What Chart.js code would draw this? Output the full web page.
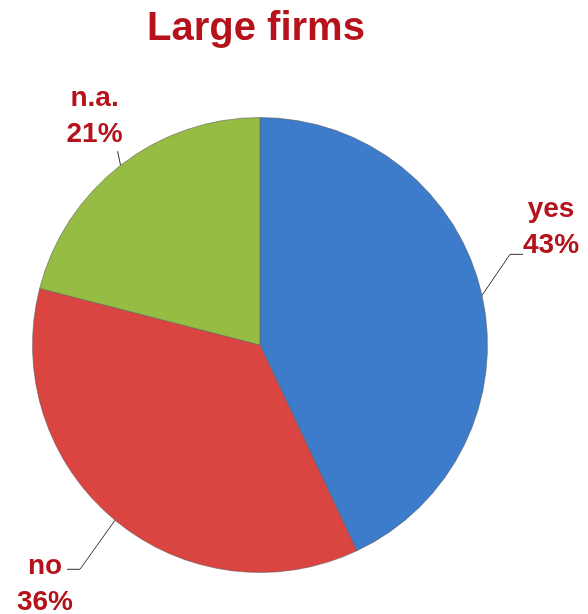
<!DOCTYPE html>
<html>
<head>
<meta charset="utf-8">
<script src="https://cdn.jsdelivr.net/npm/chart.js@4"></script>
<style>
  html, body { margin: 0; padding: 0; background: #fff; }
  #wrap { width: 588px; height: 614px; }
</style>
</head>
<body>
<div id="wrap"><canvas id="myChart" width="588" height="614"></canvas></div>
<script>
const chartTitle = "Large firms";
const categories = ["yes", "no", "n.a."];
const shares = [43, 36, 21];
const sliceColors = ["#3d7ccb", "#db4541", "#96bc43"];
const rimColors = ["#2f64a8", "#b8302d", "#78a030"];

const labelRed = "#b5121b";
const fontFamily = "'Liberation Sans', Arial, sans-serif";

// fake the office-style shading: flat in the middle, darker toward the rim
function sliceFill(ctx) {
  const chart = ctx.chart;
  const i = ctx.dataIndex;
  const meta = chart.getDatasetMeta(0);
  const arc = meta.data[i];
  if (!arc || !arc.outerRadius) return sliceColors[i];
  const g = chart.ctx.createRadialGradient(arc.x, arc.y, 0, arc.x, arc.y, arc.outerRadius);
  g.addColorStop(0, sliceColors[i]);
  g.addColorStop(0.9, sliceColors[i]);
  g.addColorStop(1, rimColors[i]);
  return g;
}

// where each label sits relative to its slice's edge point
const labelLayout = [
  { elbow: [28, -41], end: [41, -41], text: [69, -86] },
  { elbow: [-35, 49], end: [-48, 49], text: [-70, 46] },
  { elbow: [-3, -14], end: [-3, -14], text: [-26, -67] },
];

const titlePlugin = {
  id: "bigTitle",
  afterDraw(chart) {
    const c = chart.ctx;
    c.save();
    c.fillStyle = labelRed;
    c.font = "bold 40px " + fontFamily;
    c.textAlign = "center";
    c.textBaseline = "middle";
    c.fillText(chartTitle, 256, 29);
    c.restore();
  },
};

const leaderLabels = {
  id: "leaderLabels",
  afterDatasetsDraw(chart) {
    const c = chart.ctx;
    const meta = chart.getDatasetMeta(0);
    meta.data.forEach((arc, i) => {
      const mid = (arc.startAngle + arc.endAngle) / 2;
      const sx = arc.x + Math.cos(mid) * arc.outerRadius;
      const sy = arc.y + Math.sin(mid) * arc.outerRadius;
      const L = labelLayout[i];
      c.save();
      c.strokeStyle = "#333";
      c.lineWidth = 1;
      c.beginPath();
      c.moveTo(sx, sy);
      c.lineTo(sx + L.elbow[0], sy + L.elbow[1]);
      c.lineTo(sx + L.end[0], sy + L.end[1]);
      c.stroke();

      c.fillStyle = labelRed;
      c.font = "bold 28px " + fontFamily;
      c.textAlign = "center";
      c.textBaseline = "middle";
      const tx = sx + L.text[0];
      const ty = sy + L.text[1];
      c.fillText(categories[i], tx, ty);
      c.fillText(shares[i] + "%", tx, ty + 36);
      c.restore();
    });
  },
};

new Chart(document.getElementById("myChart"), {
  type: "pie",
  data: {
    labels: categories,
    datasets: [{
      data: shares,
      backgroundColor: sliceFill,
      borderColor: "rgba(90,90,90,0.55)",
      borderWidth: 1,
    }],
  },
  options: {
    responsive: false,
    animation: false,
    layout: {
      padding: { left: 32, right: 100, top: 117, bottom: 41 },
    },
    plugins: {
      legend: { display: false },
      tooltip: { enabled: false },
      title: { display: false },
    },
  },
  plugins: [titlePlugin, leaderLabels],
});
</script>
</body>
</html>
